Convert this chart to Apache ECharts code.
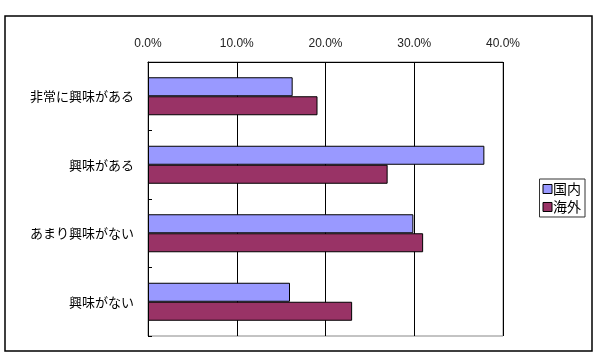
<!DOCTYPE html>
<html><head><meta charset="utf-8">
<script src="https://cdn.jsdelivr.net/npm/echarts@6/dist/echarts.min.js"></script>
<style>html,body{margin:0;padding:0;background:#fff}#c{width:600px;height:359px}</style>
</head><body><div id="c"></div>
<script>
const categories = ['非常に興味がある', '興味がある', 'あまり興味がない', '興味がない'];
const seriesNames = ['国内', '海外'];
const domestic = [16.3, 37.9, 29.9, 16.0];
const overseas = [19.1, 27.0, 31.0, 23.0];
const xTicks = [0, 10, 20, 30, 40];

const chart = echarts.init(document.getElementById('c'));
const font = '"Noto Sans CJK JP", "Noto Sans", sans-serif';
chart.setOption({
  animation: false,
  backgroundColor: '#fff',
  graphic: [{
    type: 'rect', shape: { x: 5, y: 16, width: 587, height: 335 },
    style: { fill: 'none', stroke: '#000', lineWidth: 1.5 }, silent: true, z: -1
  }],
  grid: { left: 148, right: 97, top: 62, bottom: 23, containLabel: false,
          show: true, borderColor: '#888', borderWidth: 1 },
  legend: {
    orient: 'vertical', right: 15, top: 179, icon: 'rect',
    itemWidth: 9, itemHeight: 9, itemGap: 4, padding: [3, 4, 3, 3],
    borderColor: '#333', borderWidth: 1,
    textStyle: { fontFamily: font, fontSize: 14, color: '#000', padding: [0, 0, 0, -4] },
    data: seriesNames.map(n => ({ name: n, itemStyle: { borderColor: '#000', borderWidth: 1 } }))
  },
  xAxis: {
    type: 'value', position: 'top', min: xTicks[0], max: xTicks[xTicks.length - 1], interval: 10,
    axisLine: { show: true, lineStyle: { color: '#000' } },
    axisTick: { show: false },
    splitLine: { show: true, lineStyle: { color: '#000', width: 1 } },
    axisLabel: { fontFamily: 'Liberation Sans, Arial, sans-serif', fontSize: 12, color: '#222', margin: 12,
                 formatter: v => v.toFixed(1) + '%' }
  },
  yAxis: {
    type: 'category', data: categories, inverse: true,
    axisLine: { show: true, lineStyle: { color: '#000' } },
    axisTick: { show: true, inside: true, length: 4, lineStyle: { color: '#000' } },
    axisLabel: { fontFamily: font, fontSize: 13, color: '#000', margin: 14 }
  },
  series: [
    { name: seriesNames[0], type: 'bar', data: domestic, barWidth: 19, barGap: '0%',
      itemStyle: { color: '#9999FF', borderColor: '#000', borderWidth: 1 } },
    { name: seriesNames[1], type: 'bar', data: overseas, barWidth: 19, barGap: '0%',
      itemStyle: { color: '#993366', borderColor: '#000', borderWidth: 1 } }
  ]
});
</script></body></html>
